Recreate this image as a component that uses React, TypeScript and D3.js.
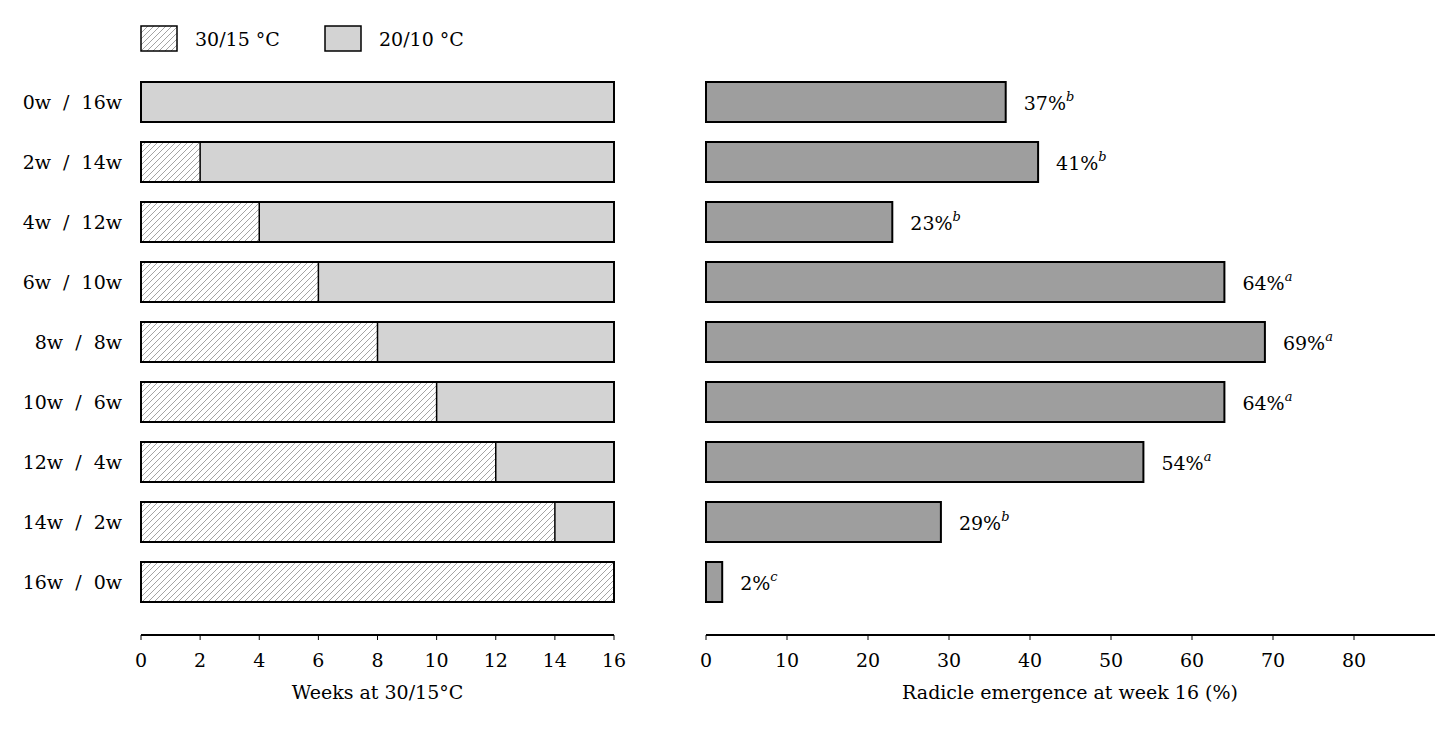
import React from 'react';
import * as d3 from 'd3';

const treatments = [
  '0w / 16w', '2w / 14w', '4w / 12w', '6w / 10w', '8w / 8w',
  '10w / 6w', '12w / 4w', '14w / 2w', '16w / 0w',
];
const warmWeeks = [0, 2, 4, 6, 8, 10, 12, 14, 16];
const totalWeeks = 16;
const emergence = [37, 41, 23, 64, 69, 64, 54, 29, 2];
const groups = ['b', 'b', 'b', 'a', 'a', 'a', 'a', 'b', 'c'];
const weekTicks = [0, 2, 4, 6, 8, 10, 12, 14, 16];
const pctTicks = [0, 10, 20, 30, 40, 50, 60, 70, 80];

const W = 1456;
const H = 734;
const FONT = '"DejaVu Serif", "Liberation Serif", serif';
const FS = 19;

const App: React.FC = () => {
  const y = d3.scaleBand<string>().domain(treatments).range([62, 622]).paddingInner(1 / 3).paddingOuter(1 / 3);
  const xL = d3.scaleLinear().domain([0, 16]).range([141, 614]);
  const xR = d3.scaleLinear().domain([0, 90]).range([706, 1435]);
  const axisY = 635;
  const bh = y.bandwidth();

  return (
    <svg width={W} height={H} style={{position: 'absolute', left: 0, top: 0, background: '#fff'}} fontFamily={FONT}>
      <defs>
        <pattern id='hatch' patternUnits='userSpaceOnUse' width={6} height={6}>
          <path d='M-1,1 l2,-2 M0,6 l6,-6 M5,7 l2,-2' stroke='#858585' strokeWidth={0.75} />
        </pattern>
      </defs>

      {/* legend */}
      <g>
        <rect x={141} y={26} width={36} height={25} fill='#fff' />
        <rect x={141} y={26} width={36} height={25} fill='url(#hatch)' stroke='#000' strokeWidth={1.5} />
        <text x={195} y={46} fontSize={FS}>30/15 °C</text>
        <rect x={325} y={26} width={36} height={25} fill='#d3d3d3' stroke='#000' strokeWidth={1.5} />
        <text x={379} y={46} fontSize={FS}>20/10 °C</text>
      </g>

      {/* left panel */}
      {treatments.map((t, i) => {
        const y0 = y(t)!;
        return (
          <g key={t}>
            <text x={122} y={y0 + bh / 2 + 7} textAnchor='end' fontSize={FS} style={{whiteSpace: 'pre'}}>{t.replace(' / ', '  /  ')}</text>
            <rect x={xL(0)} y={y0} width={xL(totalWeeks) - xL(0)} height={bh} fill='#d3d3d3' />
            {warmWeeks[i] > 0 && (
              <rect x={xL(0)} y={y0} width={xL(warmWeeks[i]) - xL(0)} height={bh} fill='#fff' />
            )}
            {warmWeeks[i] > 0 && (
              <rect x={xL(0)} y={y0} width={xL(warmWeeks[i]) - xL(0)} height={bh} fill='url(#hatch)' stroke='#000' strokeWidth={1.5} />
            )}
            <rect x={xL(0)} y={y0} width={xL(totalWeeks) - xL(0)} height={bh} fill='none' stroke='#000' strokeWidth={2} />
          </g>
        );
      })}
      <line x1={xL(0)} x2={xL(16)} y1={axisY} y2={axisY} stroke='#000' strokeWidth={2} />
      {weekTicks.map((v) => (
        <g key={v}>
          <line x1={xL(v)} x2={xL(v)} y1={axisY} y2={axisY + 5} stroke='#000' strokeWidth={1} />
          <text x={xL(v)} y={axisY + 32} textAnchor='middle' fontSize={FS}>{v}</text>
        </g>
      ))}
      <text x={(xL(0) + xL(16)) / 2} y={699} textAnchor='middle' fontSize={FS}>Weeks at 30/15°C</text>

      {/* right panel */}
      {treatments.map((t, i) => {
        const y0 = y(t)!;
        return (
          <g key={t}>
            <rect x={xR(0)} y={y0} width={xR(emergence[i]) - xR(0)} height={bh} fill='#9e9e9e' stroke='#000' strokeWidth={2} />
            <text x={xR(emergence[i]) + 18} y={y0 + bh / 2 + 8} fontSize={FS}>
              {emergence[i]}%
              <tspan fontStyle='italic' fontSize={13} dy={-9}>{groups[i]}</tspan>
            </text>
          </g>
        );
      })}
      <line x1={xR(0)} x2={xR(90)} y1={axisY} y2={axisY} stroke='#000' strokeWidth={2} />
      {pctTicks.map((v) => (
        <g key={v}>
          <line x1={xR(v)} x2={xR(v)} y1={axisY} y2={axisY + 5} stroke='#000' strokeWidth={1} />
          <text x={xR(v)} y={axisY + 32} textAnchor='middle' fontSize={FS}>{v}</text>
        </g>
      ))}
      <text x={1070} y={699} textAnchor='middle' fontSize={FS}>Radicle emergence at week 16 (%)</text>
    </svg>
  );
};

export default App;
